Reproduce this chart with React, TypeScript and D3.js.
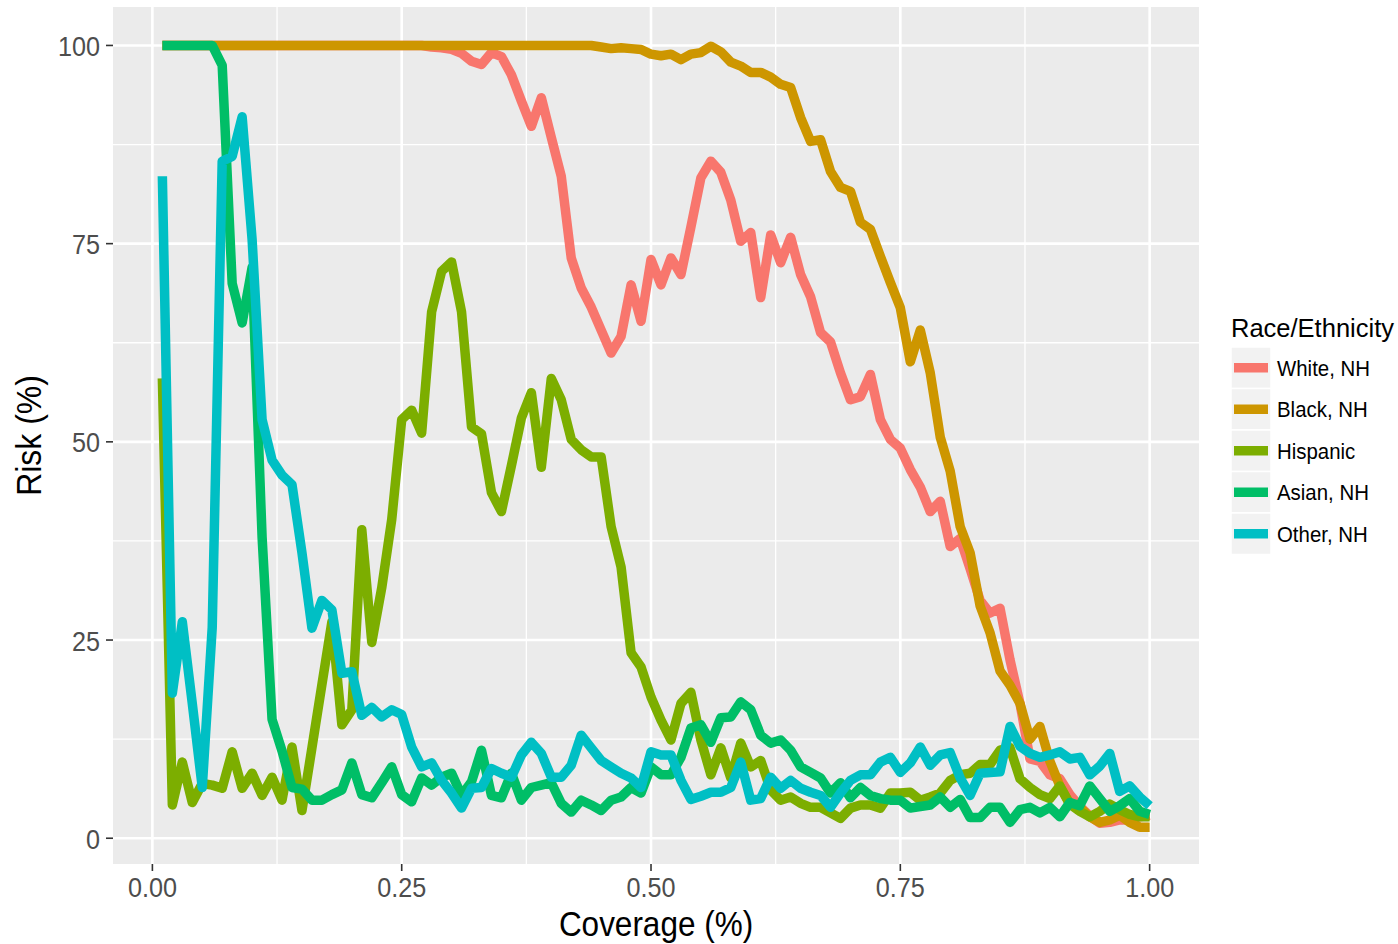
import React, { useEffect, useRef } from 'react';
import * as d3 from 'd3';

const coverage = [
  0.01, 0.02, 0.03, 0.04, 0.05, 0.06, 0.07, 0.08, 0.09, 0.1,
  0.11, 0.12, 0.13, 0.14, 0.15, 0.16, 0.17, 0.18, 0.19, 0.2,
  0.21, 0.22, 0.23, 0.24, 0.25, 0.26, 0.27, 0.28, 0.29, 0.3,
  0.31, 0.32, 0.33, 0.34, 0.35, 0.36, 0.37, 0.38, 0.39, 0.4,
  0.41, 0.42, 0.43, 0.44, 0.45, 0.46, 0.47, 0.48, 0.49, 0.5,
  0.51, 0.52, 0.53, 0.54, 0.55, 0.56, 0.57, 0.58, 0.59, 0.6,
  0.61, 0.62, 0.63, 0.64, 0.65, 0.66, 0.67, 0.68, 0.69, 0.7,
  0.71, 0.72, 0.73, 0.74, 0.75, 0.76, 0.77, 0.78, 0.79, 0.8,
  0.81, 0.82, 0.83, 0.84, 0.85, 0.86, 0.87, 0.88, 0.89, 0.9,
  0.91, 0.92, 0.93, 0.94, 0.95, 0.96, 0.97, 0.98, 0.99, 1.0
];

const white = [
  100, 100, 100, 100, 100, 100, 100, 100, 100, 100,
  100, 100, 100, 100, 100, 100, 100, 100, 100, 100,
  100, 100, 100, 100, 100, 100, 100, 99.8, 99.7, 99.5,
  99, 98, 97.6, 99.1, 98.6, 96.3, 93, 89.8, 93.4, 88.4,
  83.5, 73.2, 69.4, 67, 64.1, 61.2, 63.3, 69.8, 65.2, 73,
  69.8, 73.2, 71.1, 77.1, 83.3, 85.4, 84, 80.5, 75.3, 76.4,
  68.2, 76.1, 72.6, 75.8, 71.1, 68.3, 63.8, 62.6, 58.7, 55.3,
  55.7, 58.5, 52.8, 50.3, 49.2, 46.5, 44.3, 41.2, 42.5, 36.8,
  37.8, 34, 30, 28.4, 29, 22.5, 17, 10, 9.7, 8,
  7.5, 5.5, 4, 2.8, 1.9, 2, 2.3, 2.3, 2.7, 2.9
];

const black = [
  100, 100, 100, 100, 100, 100, 100, 100, 100, 100,
  100, 100, 100, 100, 100, 100, 100, 100, 100, 100,
  100, 100, 100, 100, 100, 100, 100, 100, 100, 100,
  100, 100, 100, 100, 100, 100, 100, 100, 100, 100,
  100, 100, 100, 100, 99.8, 99.6, 99.7, 99.6, 99.5, 98.9,
  98.7, 98.9, 98.2, 98.9, 99.1, 99.9, 99.2, 97.9, 97.4, 96.6,
  96.6, 96, 95.1, 94.7, 90.9, 87.9, 88.1, 84.1, 82.1, 81.6,
  77.7, 76.8, 73.4, 70.1, 66.9, 60.1, 64.1, 58.7, 50.6, 46.3,
  39.3, 36, 29.3, 25.9, 21.1, 19.3, 17, 12.5, 14.1, 9.7,
  6.6, 4.3, 3.9, 2.7, 2, 2.3, 2.9, 2, 1.4, 1.4
];

const hispanic = [
  58, 4.2, 9.6, 4.5, 6.9, 6.7, 6.3, 10.9, 6.3, 8.2,
  5.4, 7.7, 4.8, 11.5, 3.5, 11.4, 19.4, 27.3, 14.3, 16.2,
  38.9, 24.7, 31.6, 40.2, 52.8, 54, 51.1, 66.4, 71.5, 72.7,
  66.4, 51.9, 51, 43.6, 41.2, 47, 53, 56.2, 46.8, 58,
  55.3, 50.3, 49, 48.1, 48.1, 39.3, 34.2, 23.4, 21.6, 17.8,
  14.9, 12.4, 17, 18.4, 12.4, 8, 11.4, 7.6, 12, 9,
  9.8, 6.1, 4.8, 5.2, 4.4, 3.9, 3.9, 3.2, 2.5, 3.8,
  4.2, 4.2, 3.8, 5.7, 5.7, 5.8, 4.8, 5.2, 5.7, 7.3,
  8, 8.2, 9.3, 9.3, 11.1, 11.4, 7.5, 6.4, 5.5, 5,
  6.6, 4.3, 3.4, 2.7, 3.4, 4.3, 3.6, 3, 2.7, 2.7
];

const asian = [
  100, 100, 100, 100, 100, 100, 97.5, 70, 65, 72,
  38, 15, 11, 6.4, 6.2, 4.8, 4.8, 5.5, 6.1, 9.5,
  5.5, 5.1, 7, 9, 5.5, 4.6, 7.6, 6.7, 7.7, 8.2,
  5.4, 7.1, 11.1, 5.4, 5.1, 8.2, 4.8, 6.4, 6.7, 7,
  4.4, 3.3, 4.8, 4.2, 3.5, 4.8, 5.2, 6.4, 5.7, 9,
  8, 8, 10.2, 13.9, 14.3, 12.1, 15.2, 15.3, 17.2, 16.2,
  13, 12, 12.4, 11.1, 9, 8.3, 7.6, 5.7, 7, 5.1,
  6.4, 5.4, 5, 4.8, 4.8, 3.8, 4, 4.2, 5.2, 3.9,
  4.9, 2.6, 2.6, 3.9, 3.9, 2, 3.6, 3.9, 3.2, 3.9,
  2.7, 4.5, 4.1, 6.6, 5, 3.4, 4.1, 5, 3.4, 3
];

const other = [
  83.5, 18.3, 27.3, 17, 6.4, 26.6, 85.4, 86, 91, 75.5,
  52.8, 47.7, 45.8, 44.6, 36, 26.5, 30, 28.8, 20.8, 21,
  15.5, 16.5, 15.3, 16.2, 15.6, 11.5, 9, 9.5, 7.3, 5.7,
  3.8, 6.3, 6.4, 8.8, 8.2, 7.7, 10.5, 12.1, 10.7, 7.7,
  7.7, 9.2, 13, 11.4, 9.8, 9, 8.2, 7.6, 6.4, 10.9,
  10.5, 10.5, 7.3, 4.9, 5.3, 5.8, 5.8, 6.4, 9.6, 4.8,
  5, 7.7, 6.3, 7.3, 6.3, 5.8, 5.4, 3.9, 5.7, 7.3,
  8, 8, 9.6, 10.2, 8.3, 9.5, 11.5, 9.2, 10.5, 10.8,
  7.6, 5.4, 8.2, 8.3, 8.4, 14.1, 11.6, 10.7, 10.2, 10.5,
  10.9, 10, 10.2, 8, 9.1, 10.7, 5.9, 6.6, 5.2, 4.1
];

const groups = ['White, NH', 'Black, NH', 'Hispanic', 'Asian, NH', 'Other, NH'];
const groupValues = [white, black, hispanic, asian, other];
const colors = ['#F8766D', '#CD9600', '#7CAE00', '#00BE67', '#00BFC4'];

const xTicks = [0, 0.25, 0.5, 0.75, 1];
const xTickLabels = ['0.00', '0.25', '0.50', '0.75', '1.00'];
const xMinor = [0.125, 0.375, 0.625, 0.875];
const yTicks = [0, 25, 50, 75, 100];
const yMinor = [12.5, 37.5, 62.5, 87.5];

const App = () => {
  const ref = useRef<SVGSVGElement | null>(null);

  useEffect(() => {
    const W = 1398;
    const H = 944;
    const panel = { left: 113, right: 1199, top: 7, bottom: 864 };
    const font = 'Liberation Sans, Arial, Helvetica, sans-serif';

    const svg = d3.select(ref.current);
    svg.selectAll('*').remove();
    svg.attr('width', W).attr('height', H);

    svg.append('rect').attr('width', W).attr('height', H).attr('fill', '#fff');

    const x = d3.scaleLinear().domain([-0.0395, 1.0495]).range([panel.left, panel.right]);
    const y = d3.scaleLinear().domain([-3.25, 104.85]).range([panel.bottom, panel.top]);

    // panel + grid
    svg.append('rect')
      .attr('x', panel.left).attr('y', panel.top)
      .attr('width', panel.right - panel.left).attr('height', panel.bottom - panel.top)
      .attr('fill', '#EBEBEB');

    const grid = svg.append('g').attr('stroke', '#fff').attr('fill', 'none');
    grid.selectAll('line.xmin').data(xMinor).enter().append('line')
      .attr('x1', d => x(d)).attr('x2', d => x(d))
      .attr('y1', panel.top).attr('y2', panel.bottom).attr('stroke-width', 1.3);
    grid.selectAll('line.ymin').data(yMinor).enter().append('line')
      .attr('y1', d => y(d)).attr('y2', d => y(d))
      .attr('x1', panel.left).attr('x2', panel.right).attr('stroke-width', 1.3);
    grid.selectAll('line.xmaj').data(xTicks).enter().append('line')
      .attr('x1', d => x(d)).attr('x2', d => x(d))
      .attr('y1', panel.top).attr('y2', panel.bottom).attr('stroke-width', 2.6);
    grid.selectAll('line.ymaj').data(yTicks).enter().append('line')
      .attr('y1', d => y(d)).attr('y2', d => y(d))
      .attr('x1', panel.left).attr('x2', panel.right).attr('stroke-width', 2.6);

    // lines
    const line = d3.line<number>()
      .x((d, i) => x(coverage[i]))
      .y(d => y(d));

    svg.append('g')
      .selectAll('path')
      .data(groupValues)
      .enter()
      .append('path')
      .attr('d', d => line(d))
      .attr('fill', 'none')
      .attr('stroke', (d, i) => colors[i])
      .attr('stroke-width', 9.5)
      .attr('stroke-linejoin', 'round')
      .attr('stroke-linecap', 'butt');

    // axes ticks
    const axis = svg.append('g');
    axis.selectAll('line.yt').data(yTicks).enter().append('line')
      .attr('x1', panel.left - 7).attr('x2', panel.left)
      .attr('y1', d => y(d)).attr('y2', d => y(d))
      .attr('stroke', '#333').attr('stroke-width', 1.6);
    axis.selectAll('line.xt').data(xTicks).enter().append('line')
      .attr('y1', panel.bottom).attr('y2', panel.bottom + 7)
      .attr('x1', d => x(d)).attr('x2', d => x(d))
      .attr('stroke', '#333').attr('stroke-width', 1.6);

    axis.selectAll('text.yl').data(yTicks).enter().append('text')
      .attr('transform', d => `translate(100,${y(d) + 10.5}) scale(0.9,1)`)
      .attr('text-anchor', 'end')
      .attr('font-family', font).attr('font-size', 28)
      .attr('fill', '#4D4D4D')
      .text(d => String(d));

    axis.selectAll('text.xl').data(xTicks).enter().append('text')
      .attr('transform', d => `translate(${x(d)},897) scale(0.9,1)`)
      .attr('text-anchor', 'middle')
      .attr('font-family', font).attr('font-size', 28)
      .attr('fill', '#4D4D4D')
      .text((d, i) => xTickLabels[i]);

    // axis titles
    svg.append('text')
      .attr('transform', `translate(${(panel.left + panel.right) / 2},936) scale(0.9,1)`)
      .attr('text-anchor', 'middle')
      .attr('font-family', font).attr('font-size', 35)
      .attr('fill', '#000')
      .text('Coverage (%)');

    svg.append('text')
      .attr('transform', `translate(41,${(panel.top + panel.bottom) / 2}) rotate(-90) scale(0.9,1)`)
      .attr('text-anchor', 'middle')
      .attr('font-family', font).attr('font-size', 35.5)
      .attr('fill', '#000')
      .text('Risk (%)');

    // legend
    const lg = svg.append('g').attr('transform', 'translate(1231,0)');
    lg.append('text')
      .attr('x', 0).attr('y', 337)
      .attr('font-family', font).attr('font-size', 25.5)
      .attr('fill', '#000')
      .text('Race/Ethnicity');

    const item = lg.selectAll('g.item').data(groups).enter().append('g')
      .attr('transform', (d, i) => `translate(0,${347 + i * 41.5})`);
    item.append('rect')
      .attr('width', 40).attr('height', 41.5)
      .attr('fill', '#F2F2F2').attr('stroke', '#fff').attr('stroke-width', 1.5);
    item.append('line')
      .attr('x1', 3).attr('x2', 37)
      .attr('y1', 20.75).attr('y2', 20.75)
      .attr('stroke', (d, i) => colors[i]).attr('stroke-width', 9.5);
    item.append('text')
      .attr('transform', 'translate(46,28.5) scale(0.95,1)')
      .attr('font-family', font).attr('font-size', 21.5)
      .attr('fill', '#000')
      .text(d => d);
  }, []);

  return (
    <div style={{ position: 'absolute', left: 0, top: 0 }}>
      <svg ref={ref} style={{ display: 'block' }} />
    </div>
  );
};

export default App;
